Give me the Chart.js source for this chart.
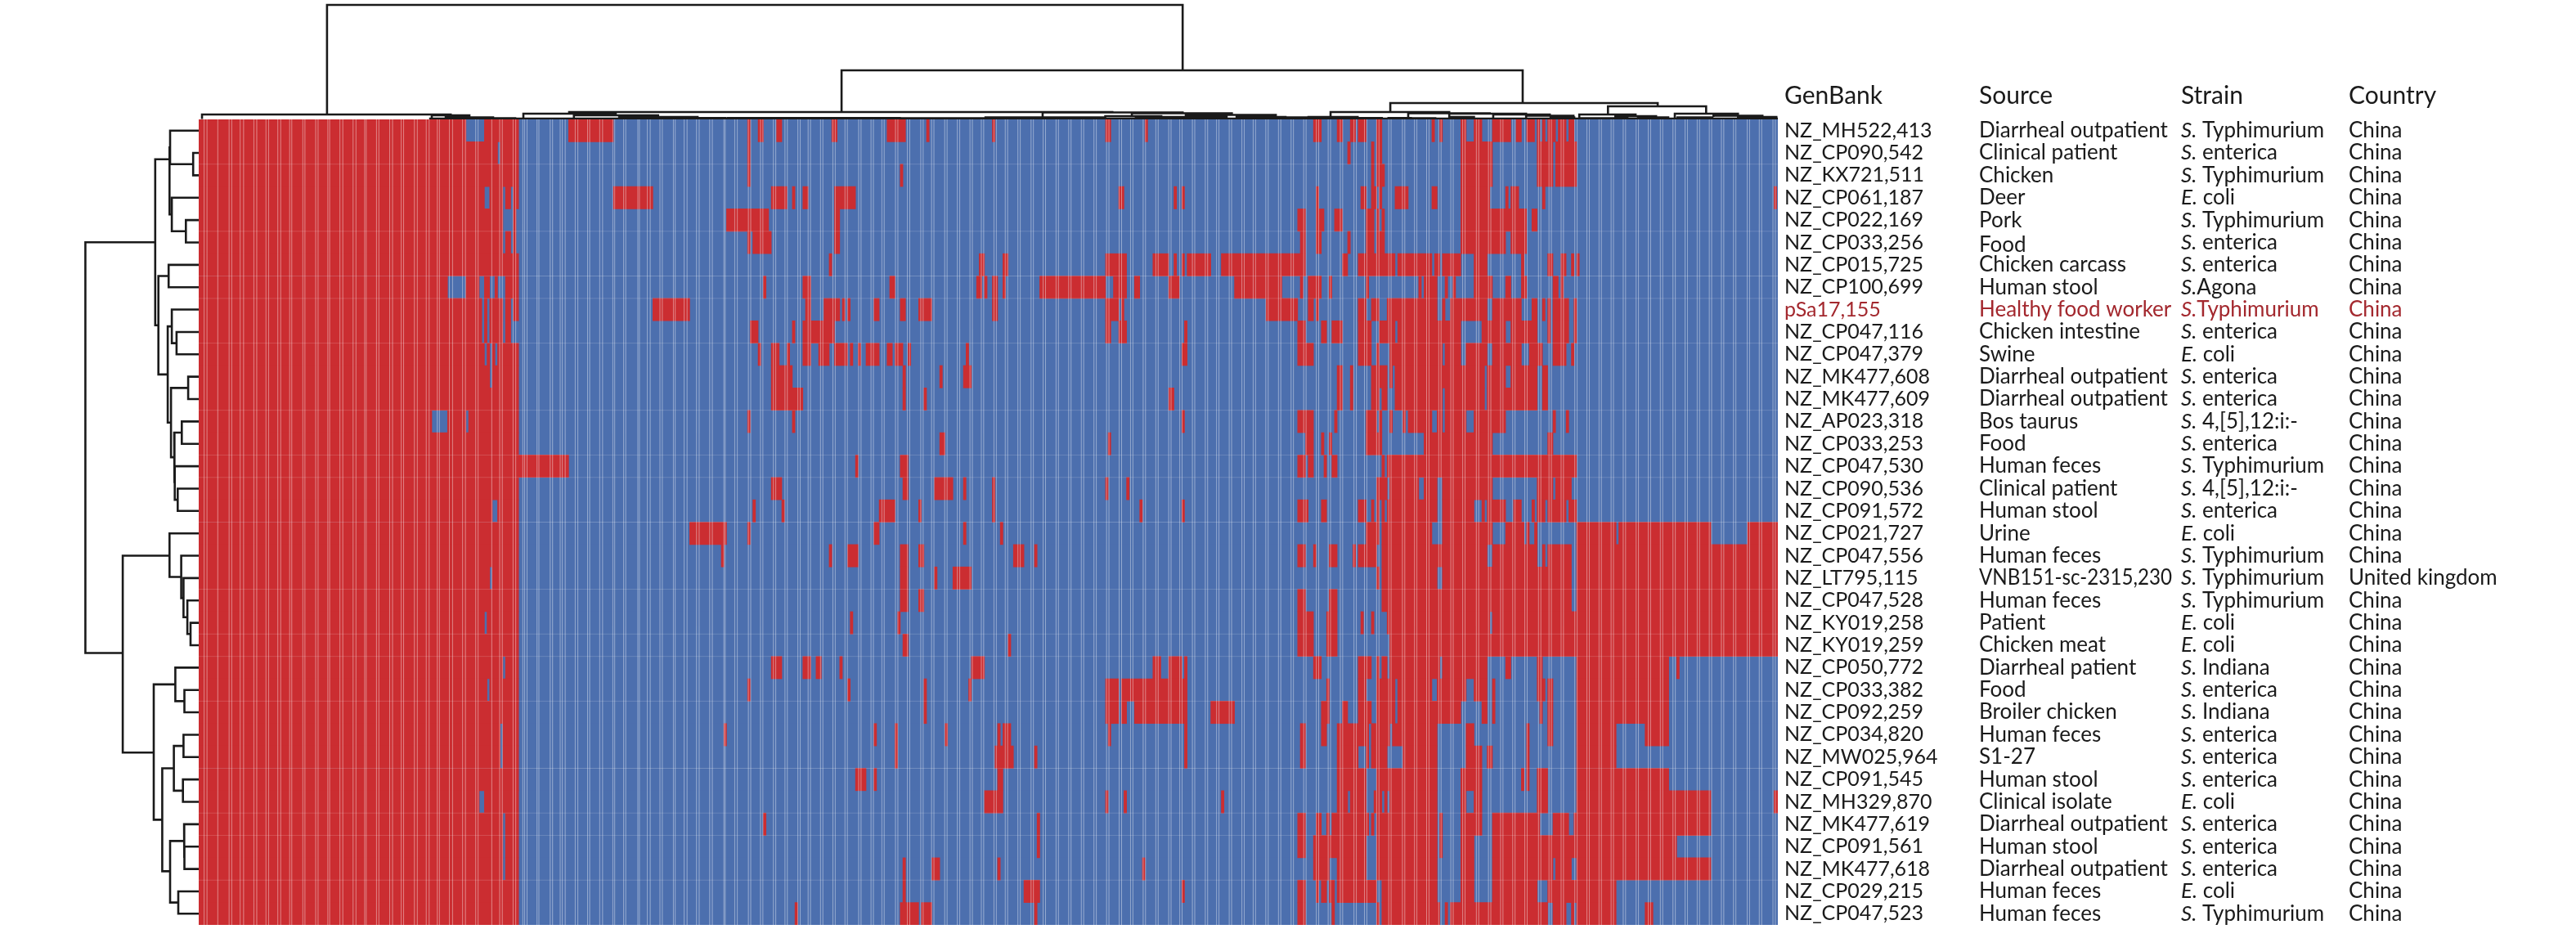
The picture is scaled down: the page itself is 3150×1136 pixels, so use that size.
<!DOCTYPE html>
<html>
<head>
<meta charset="utf-8">
<title>Plasmid gene heatmap</title>
<script src="https://cdn.jsdelivr.net/npm/chart.js@4/dist/chart.umd.min.js"></script>
<style>
  html, body { margin: 0; padding: 0; background: #fff; }
  #wrap { position: relative; width: 3150px; height: 1136px; overflow: hidden; }
  canvas { position: absolute; }
  #main { left: 0; top: 0; }
  #left { left: 0; top: 146px; }
  #top { left: 243px; top: 0; }
</style>
</head>
<body>
<div id="wrap">
  <canvas id="main" width="3150" height="1136"></canvas>
  <canvas id="left" width="243" height="985"></canvas>
  <canvas id="top" width="1931" height="146"></canvas>
</div>
<script>
// Rows top to bottom
const genbank = ['NZ_MH522,413','NZ_CP090,542','NZ_KX721,511','NZ_CP061,187','NZ_CP022,169','NZ_CP033,256','NZ_CP015,725','NZ_CP100,699','pSa17,155','NZ_CP047,116','NZ_CP047,379','NZ_MK477,608','NZ_MK477,609','NZ_AP023,318','NZ_CP033,253','NZ_CP047,530','NZ_CP090,536','NZ_CP091,572','NZ_CP021,727','NZ_CP047,556','NZ_LT795,115','NZ_CP047,528','NZ_KY019,258','NZ_KY019,259','NZ_CP050,772','NZ_CP033,382','NZ_CP092,259','NZ_CP034,820','NZ_MW025,964','NZ_CP091,545','NZ_MH329,870','NZ_MK477,619','NZ_CP091,561','NZ_MK477,618','NZ_CP029,215','NZ_CP047,523'];
const sources = ['Diarrheal outpatient','Clinical patient','Chicken','Deer','Pork','Food','Chicken carcass','Human stool','Healthy food worker','Chicken intestine','Swine','Diarrheal outpatient','Diarrheal outpatient','Bos taurus','Food','Human feces','Clinical patient','Human stool','Urine','Human feces','VNB151-sc-2315,230','Human feces','Patient','Chicken meat','Diarrheal patient','Food','Broiler chicken','Human feces','S1-27','Human stool','Clinical isolate','Diarrheal outpatient','Human stool','Diarrheal outpatient','Human feces','Human feces'];
const strains = ['S. Typhimurium','S. enterica','S. Typhimurium','E. coli','S. Typhimurium','S. enterica','S. enterica','S.Agona','S.Typhimurium','S. enterica','E. coli','S. enterica','S. enterica','S. 4,[5],12:i:-','S. enterica','S. Typhimurium','S. 4,[5],12:i:-','S. enterica','E. coli','S. Typhimurium','S. Typhimurium','S. Typhimurium','E. coli','E. coli','S. Indiana','S. enterica','S. Indiana','S. enterica','S. enterica','S. enterica','E. coli','S. enterica','S. enterica','S. enterica','E. coli','S. Typhimurium'];
const countries = ['China','China','China','China','China','China','China','China','China','China','China','China','China','China','China','China','China','China','China','China','United kingdom','China','China','China','China','China','China','China','China','China','China','China','China','China','China','China'];
const headers = ['GenBank','Source','Strain','Country'];
const highlightRow = 8;
const loweredSourceRow = 5; // "Food" sits a little low in the original table

// Gene presence: red runs per row, [first column, end column)
const redRuns = [
  [[0,101],[108,121],[140,157],[208,209],[212,214],[219,221],[240,242],[261,268],[276,277],[301,302],[344,346],[359,360],[423,426],[432,434],[437,439],[440,443],[447,449],[468,469],[471,472],[479,481],[484,487],[491,498],[500,502],[504,507],[508,509],[510,511],[512,515],[516,519],[520,522]],
  [[0,113],[114,121],[208,209],[436,437],[445,446],[447,449],[479,491],[508,514],[515,523]],
  [[0,121],[208,209],[266,267],[445,446],[447,450],[479,491],[508,514],[515,523]],
  [[0,108],[110,115],[116,118],[119,121],[157,172],[217,223],[225,226],[229,231],[241,249],[349,351],[370,371],[373,374],[424,425],[441,443],[445,447],[448,449],[454,459],[468,470],[479,490],[496,497],[498,501],[510,511],[598,599]],
  [[0,115],[119,120],[200,216],[241,243],[417,420],[424,427],[431,434],[443,446],[447,448],[449,450],[479,504],[506,508]],
  [[0,115],[116,118],[119,120],[208,209],[210,217],[241,243],[418,420],[424,426],[436,437],[443,446],[447,450],[479,496],[498,504]],
  [[0,121],[239,240],[296,298],[305,307],[344,352],[362,368],[370,371],[373,374],[375,384],[388,420],[434,436],[440,454],[455,468],[469,471],[472,479],[484,489],[502,503],[512,514],[517,519],[521,522],[523,524]],
  [[0,94],[101,106],[108,110],[112,113],[116,121],[214,215],[229,232],[262,264],[295,297],[298,299],[301,303],[305,306],[319,344],[347,352],[355,357],[368,372],[393,411],[418,419],[421,426],[429,430],[443,444],[463,464],[465,470],[473,474],[476,477],[484,491],[496,498],[502,504],[514,516],[517,518]],
  [[0,107],[108,109],[110,115],[116,118],[119,121],[172,186],[230,232],[237,243],[244,245],[246,247],[256,258],[266,268],[273,278],[301,303],[344,349],[350,351],[405,417],[421,423],[424,425],[440,443],[445,448],[451,470],[472,473],[475,489],[491,502],[506,508],[510,511],[512,513],[514,520],[522,523]],
  [[0,107],[108,109],[110,115],[116,118],[209,212],[225,226],[229,241],[344,346],[349,352],[374,375],[417,420],[426,428],[430,434],[440,445],[448,454],[455,479],[487,496],[498,508],[512,513],[514,520],[522,523]],
  [[0,108],[109,110],[111,112],[113,121],[212,213],[217,220],[223,224],[229,232],[235,239],[241,246],[247,248],[250,251],[253,258],[261,263],[264,267],[269,270],[291,292],[373,375],[417,423],[440,445],[447,448],[452,472],[473,479],[481,489],[491,502],[505,510],[514,519],[521,522]],
  [[0,110],[111,121],[217,225],[267,268],[281,282],[290,293],[432,434],[437,438],[445,451],[452,453],[454,488],[489,496],[498,508],[510,512]],
  [[0,121],[217,229],[267,268],[275,276],[368,370],[432,434],[437,438],[445,448],[449,451],[454,472],[473,488],[489,508],[510,512]],
  [[0,88],[94,101],[102,121],[208,209],[225,226],[373,374],[417,423],[431,432],[443,447],[448,449],[452,453],[457,458],[459,468],[470,472],[473,481],[484,496],[514,515],[519,520]],
  [[0,121],[281,283],[345,346],[420,423],[426,427],[429,430],[443,449],[465,472],[472,491],[512,514]],
  [[0,140],[249,250],[266,269],[417,420],[421,423],[427,428],[430,432],[449,450],[451,523]],
  [[0,121],[217,221],[267,269],[279,286],[290,291],[301,302],[344,345],[352,353],[447,451],[452,463],[465,470],[472,491],[508,514],[515,521]],
  [[0,111],[113,121],[210,211],[221,222],[258,264],[273,274],[301,302],[357,358],[373,374],[417,421],[426,428],[440,443],[445,446],[447,448],[449,450],[451,470],[472,484],[487,488],[489,496],[499,502],[506,507],[508,511],[512,519],[520,523]],
  [[0,121],[186,200],[208,209],[256,258],[290,291],[304,305],[443,448],[449,468],[472,491],[496,503],[504,505],[507,508],[523,538],[539,574],[588,600]],
  [[0,121],[198,199],[239,240],[246,250],[266,269],[273,275],[309,313],[317,318],[417,420],[423,424],[429,432],[438,439],[440,447],[449,489],[491,508],[510,511],[512,521],[523,600]],
  [[0,110],[111,121],[266,269],[279,280],[286,293],[447,448],[449,470],[472,521],[523,600]],
  [[0,121],[266,269],[273,275],[417,420],[429,432],[449,521],[523,600]],
  [[0,108],[109,121],[247,248],[265,266],[417,423],[428,432],[441,442],[445,446],[451,490],[491,600]],
  [[0,121],[267,269],[307,308],[417,423],[428,432],[452,600]],
  [[0,115],[116,121],[217,221],[229,232],[234,236],[243,244],[293,298],[362,365],[368,373],[374,375],[423,426],[440,445],[447,448],[449,451],[452,471],[472,489],[496,498],[508,510],[523,558],[561,562]],
  [[0,109],[110,121],[208,209],[246,247],[275,276],[292,293],[344,349],[350,375],[428,429],[440,443],[447,454],[455,468],[470,481],[484,489],[491,492],[508,511],[512,514],[523,558]],
  [[0,121],[275,276],[344,349],[350,352],[355,375],[384,393],[426,429],[434,436],[440,445],[447,454],[455,479],[487,489],[491,492],[509,510],[512,514],[523,558]],
  [[0,114],[115,121],[199,200],[256,257],[264,265],[283,284],[303,304],[305,308],[345,346],[374,375],[418,420],[426,428],[432,444],[445,452],[453,470],[481,484],[504,505],[512,514],[523,538],[549,558]],
  [[0,114],[115,121],[264,265],[302,309],[317,318],[374,375],[418,420],[432,440],[443,444],[445,451],[457,470],[481,487],[489,491],[504,505],[523,538]],
  [[0,121],[249,253],[256,257],[303,305],[432,443],[447,470],[479,487],[502,503],[504,505],[508,512],[523,558]],
  [[0,106],[108,121],[298,305],[344,345],[351,352],[388,389],[432,436],[437,443],[446,449],[450,451],[452,470],[479,481],[484,487],[508,512],[523,574],[598,600]],
  [[0,115],[116,121],[214,215],[318,319],[417,420],[424,426],[428,429],[430,444],[445,446],[447,470],[471,472],[479,487],[491,509],[514,520],[522,574]],
  [[0,115],[116,121],[318,319],[417,420],[423,443],[447,470],[471,472],[479,484],[491,561]],
  [[0,115],[116,121],[267,268],[278,281],[303,304],[358,359],[423,429],[432,443],[447,470],[479,484],[491,514],[515,521],[523,574]],
  [[0,121],[267,268],[313,319],[373,374],[417,420],[424,425],[426,428],[429,431],[432,447],[449,470],[479,484],[491,508],[512,538]],
  [[0,121],[226,227],[266,273],[274,278],[317,318],[417,420],[430,431],[447,448],[449,471],[473,474],[475,512],[514,519],[521,522],[523,538],[549,552]]
];

// Faint grid lines in the picture: row boundaries and column positions
const rowLines = [2,5,7,8,10,13,15,16,18,21,23,24,26,29,31,32,34];
const stripeCols = [1.5,2.6,6.7,11,12,15.2,16.5,20.4,21.5,25,26,29.5,30.6,34,34.8,39,39.8,43.9,44.8,48.5,49.2,53.1,54.2,58.1,59.2,62.5,63.1,67,67.9,72,73.1,76.4,77.3,81.4,82.5,85.9,87,90.1,90.9,94.7,95.9,99.7,100.8,104.7,105.6,110.8,113.8,114.8,118.9,119.9,122.6,123.3,124.2,128,128.7,133,133.9,136.8,137.6,138.7,142.5,143.5,147.2,148,151.8,152.9,156.8,157.5,160.9,161.7,166.3,166.9,169.9,171,174.7,175.6,179.8,180.5,183.9,185,188.6,189.6,193.6,194.6,199,199.5,203.1,204.1,208.3,209.2,212.9,213.8,217.8,218.7,222.2,223.1,227.1,228,231,231.9,235.7,236.6,240.4,241.3,245,245.9,250.2,251.1,254.9,255.8,259,259.9,264.2,265.1,268.7,269.6,273.8,274.7,277.9,278.8,282.9,283.8,287.7,288.6,292.5,293.4,296.8,297.7,301.6,302.5,305.9,306.8,310.7,311.6,315.7,316.6,320.3,321.2,325.2,326.1,330,330.9,334.8,335.7,339.6,340.5,344.4,345.3,349.2,350.1,353.5,354.4,358.3,359.2,363.1,364,368,368.9,372.2,373.1,377,377.9,381.9,382.8,386.2,387.1,391,391.9,395.8,396.7,400.1,401,404.9,405.8,409.7,410.6,414.5,415.4,419.3,420.2,424.1,425,428.6,429.5,433.2,434.1,438.4,439.3,442.4,443.3,447,447.9,451.6,452.5,456.8,457.7,461.4,462.3,466,466.9,470.6,471.5,475.2,476.1,479.7,480.6,484.9,485.8,489.5,490.4,494.1,495,498.7,499.6,503.3,504.2,508.5,509.4,512.5,513.4,517.1,518,522.3,523.2,526.9,527.8,531.5,532.4,536.1,537,540.7,541.6,545.6,546.5,550.2,551.1,554.8,555.7,559.6,560.5,564.2,565.1,568.8,569.7,573.4,574.3,578,578.9,582.6,583.5,587.8,588.7,592.4,593.3,597.6,598.5];

// Row dendrogram: [merge height, row A, height A, row B, height B]
const leftLinks = [
  [6.8,1.5,0,2.5,0],[35,0.5,0,2,6.8],[15.7,4.5,0,5.5,0],[32.9,3.5,0,5,15.7],[35.7,1.25,35,4.25,32.9],
  [36.8,6.5,0,7.5,0],[27.1,9.5,0,10.5,0],[32.9,8.5,0,10,27.1],[12.9,11.5,0,12.5,0],[20.7,13.5,0,14.5,0],
  [25.7,16.5,0,17.5,0],[29.3,15.5,0,17,25.7],[30,14,20.7,16.25,29.3],[33.9,12,12.9,15.1,30],[37.9,9.25,32.9,13.55,33.9],
  [49.3,7,36.8,11.4,37.9],[53.2,1.78,35.7,9.2,49.3],
  [10,22.5,0,23.5,0],[13.9,21.5,0,23,10],[18.6,20.5,0,22.25,13.9],[21.4,19.5,0,21.4,18.6],[35.7,18.5,0,20.45,21.4],
  [17.5,25.5,0,26.5,0],[28.6,24.5,0,26,17.5],[18.6,27.5,0,28.5,0],[19.3,29.5,0,30.5,0],[30.4,28,18.6,30,19.3],
  [17.5,32.5,0,33.5,0],[17.9,31.5,0,33,17.5],[25,34.5,0,35.5,0],[35,32.25,17.9,35,25],[44.6,29,30.4,33.6,35],
  [55,25.25,28.6,31.3,44.6],[92.9,19.5,35.7,28.3,55],[138.6,5.49,53.2,23.85,92.9]
];

// Column dendrogram: [merge height, column A, height A, column B, height B]
const topLinks = [
  [140,48.2,6,373.3,60],[6,0.7,0.5,95.2,5],[5,88,1,102.3,2.5],[2.5,93.3,0.5,111.3,1.5],[1.5,107.3,0,119.7,0],
  [60,243.7,9,502.5,20],[9,140.2,7,346.6,8.5],[7,122.8,0.5,157.9,5],[5,142,1,174,3],[3,159.2,1,189,2],
  [2,174.7,0.5,186.5,0.5],[1.8,188,0.5,199.6,0.5],[1.8,200.5,0.5,217,0.5],[1.8,217.6,0.5,241.8,0.5],[1.6,241.8,0.5,265.8,0.5],[1.5,265.8,0.5,306.2,0.5],
  [8.5,320.1,2.5,373.3,7.5],[2.5,298.4,1,343.7,1],[7.5,354,4,392,5.5],[4,343.9,0.5,365.2,2.5],[2.5,355.5,0.5,374.5,0.5],
  [5.5,374.5,3,408.7,3],[3,365,0.5,390,0.5],[3,393.8,1,412.4,1],[2.5,412.4,0.5,427,0.5],
  [20,452.2,9,553.8,16],[9,429.5,3,474.6,7.5],[3,421.1,0.5,439.8,1.5],[1.8,429.5,0.5,449,0.5],[1.8,451.5,0.5,460,0.5],[1.5,459,0.5,469.3,0.5],
  [7.5,459,3,490,7],[7,474.6,3,503.8,6],[3,474.6,0.5,484,0.5],[6,491.3,2,512.8,4.5],[4.5,503.8,1,521.8,2.5],[2.5,513.1,0.5,522.1,0.5],
  [16,534.9,6,572.2,7],[6,524,1,545.4,4],[4,537.7,1.5,553.2,2.5],[1.5,524.6,0.5,542.3,0],[2.5,546.3,0.5,557.8,0.5],
  [7,560.3,1,584.3,4.5],[4.5,575,3,593.6,3],[2.5,561.3,0.5,574.6,0.5],[3,584.3,1,598.9,1.5],
  [1,87,1,600,1]
];

const RED = '#cb2d31';
const BLUE = '#4c6fae';
const INK = '#1a1a1a';
const HIGHLIGHT = '#a3282e';
const FONT = 'Lato, "Open Sans", sans-serif';
const columnX = [2182, 2420, 2667, 2872];
const sourceMaxWidth = 236;
const colMin = -0.55, colMax = 599.45;
const GAP = { x: NaN, y: NaN };

function linkPath(links, toPoint) {
  const pts = [];
  links.forEach(([h, a, ha, b, hb]) => {
    pts.push(toPoint(ha, a), toPoint(h, a), toPoint(h, b), toPoint(hb, b), GAP);
  });
  return pts;
}

function lineSet(data, color, width, order) {
  return {
    type: 'scatter', data, showLine: true, spanGaps: false, tension: 0,
    borderColor: color, borderWidth: width, pointRadius: 0, pointHoverRadius: 0,
    borderJoinStyle: 'miter', clip: false, order
  };
}

function baseOptions(padding, scales) {
  return {
    responsive: false, animation: false, events: [],
    layout: { padding, autoPadding: false },
    plugins: { legend: { display: false }, tooltip: { enabled: false } },
    scales
  };
}

const redBars = [];
redRuns.forEach((runs, r) => runs.forEach(([s, e]) => {
  redBars.push({ x: [s === 0 ? colMin : s, Math.min(e, colMax)], y: r + 0.5 });
}));
const blueBars = genbank.map((_, r) => ({ x: [colMin, colMax], y: r + 0.5 }));

const gridPts = [];
stripeCols.forEach(c => gridPts.push({ x: c, y: 0 }, { x: c, y: genbank.length }, GAP));
rowLines.forEach(r => gridPts.push({ x: colMin, y: r }, { x: colMax, y: r }, GAP));

function drawStrain(ctx, text, x, y) {
  const dot = text.indexOf('.') + 1;
  const genus = text.slice(0, dot);
  ctx.font = 'italic 26px ' + FONT;
  ctx.fillText(genus, x, y);
  const w = ctx.measureText(genus).width;
  ctx.font = '26px ' + FONT;
  ctx.fillText(text.slice(dot), x + w, y);
}

const tablePlugin = {
  id: 'sideTable',
  afterDraw(chart) {
    const { ctx } = chart;
    const yScale = chart.scales.y;
    ctx.save();
    ctx.textBaseline = 'middle';
    ctx.textAlign = 'left';
    ctx.fillStyle = INK;
    ctx.font = '30px ' + FONT;
    headers.forEach((h, i) => ctx.fillText(h, columnX[i], yScale.getPixelForValue(-1.05)));
    genbank.forEach((id, r) => {
      const y = yScale.getPixelForValue(r + 0.5);
      ctx.fillStyle = r === highlightRow ? HIGHLIGHT : INK;
      ctx.font = '25px ' + FONT;
      ctx.fillText(id, columnX[0], y);
      ctx.font = '26px ' + FONT;
      ctx.fillText(sources[r], columnX[1], r === loweredSourceRow ? y + 3 : y, sourceMaxWidth);
      ctx.fillText(countries[r], columnX[3], y);
      drawStrain(ctx, strains[r], columnX[2], y);
    });
    ctx.restore();
  }
};

new Chart(document.getElementById('main'), {
  type: 'bar',
  data: {
    datasets: [
      lineSet(gridPts, 'rgba(255,255,255,0.16)', 1, 1),
      { label: 'present', data: redBars, indexAxis: 'y', grouped: false, backgroundColor: RED, barPercentage: 1, categoryPercentage: 1, borderWidth: 0, order: 2 },
      { label: 'absent', data: blueBars, indexAxis: 'y', grouped: false, backgroundColor: BLUE, barPercentage: 1, categoryPercentage: 1, borderWidth: 0, order: 3 }
    ]
  },
  options: baseOptions({ left: 243, top: 146, right: 976, bottom: 5 }, {
    x: { type: 'linear', min: colMin, max: colMax, offset: false, display: false },
    y: { type: 'linear', min: 0, max: genbank.length, offset: false, reverse: true, display: false }
  }),
  plugins: [tablePlugin]
});

new Chart(document.getElementById('left'), {
  type: 'scatter',
  data: { datasets: [lineSet(linkPath(leftLinks, (h, row) => ({ x: h, y: row })), INK, 2.6, 1)] },
  options: baseOptions(0, {
    x: { type: 'linear', min: 0, max: 243, reverse: true, display: false },
    y: { type: 'linear', min: 0, max: genbank.length, reverse: true, display: false }
  })
});

new Chart(document.getElementById('top'), {
  type: 'scatter',
  data: { datasets: [lineSet(linkPath(topLinks, (h, col) => ({ x: col, y: h })), INK, 2.6, 1)] },
  options: baseOptions(0, {
    x: { type: 'linear', min: colMin, max: colMax, display: false },
    y: { type: 'linear', min: 0, max: 146, display: false }
  })
});
</script>
</body>
</html>
